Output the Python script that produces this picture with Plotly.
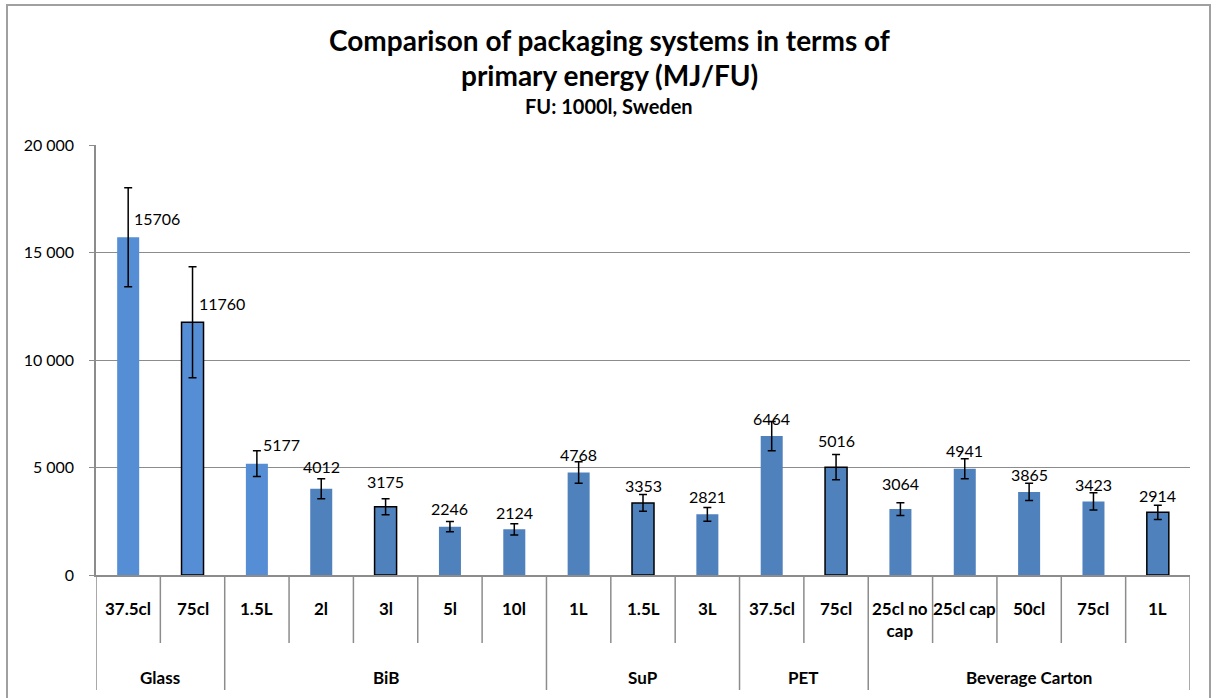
import plotly.graph_objects as go

# ---------------- data ----------------
categories = ["37.5cl", "75cl", "1.5L", "2l", "3l", "5l", "10l", "1L", "1.5L", "3L",
              "37.5cl", "75cl", "25cl no cap", "25cl cap", "50cl", "75cl", "1L"]
groups = ["Glass", "BiB", "SuP", "PET", "Beverage Carton"]
group_sizes = [2, 5, 3, 2, 5]
values = [15706, 11760, 5177, 4012, 3175, 2246, 2124, 4768, 3353, 2821,
          6464, 5016, 3064, 4941, 3865, 3423, 2914]
errors = [2300, 2580, 600, 460, 370, 240, 260, 500, 390, 320,
          680, 590, 300, 470, 400, 400, 330]
y_ticks = [0, 5000, 10000, 15000, 20000]
y_tick_labels = ["0", "5\u2005000", "10\u2005000", "15\u2005000", "20\u2005000"]

# ---------------- style ----------------
W, H = 1216, 698
L, R, T, B = 96, 26, 145, 123
PW, PH = W - L - R, H - T - B
FONT = "Lato"
GRAY = "#8C8C8C"
light = "#558ED5"
dark = "#4F81BD"
fill_colors = [light, light, light] + [dark] * 14
outlined = [False, True, False, False, True, False, False, False, True, False,
            False, True, False, False, False, False, True]
label_dy = [19, 19, 19, 22, 25, 18, 17, 18, 17, 18, 18, 27, 26, 18, 17, 17, 17]
label_right = [True, True, True] + [False] * 14


def py(Y):
    return (T + PH - Y) / PH


def px(X):
    return (X - L) / PW


x = list(range(len(categories)))

fig = go.Figure()
fig.add_trace(go.Bar(
    x=x, y=values,
    marker=dict(color=fill_colors,
                line=dict(color=["#000000" if o else "rgba(0,0,0,0)" for o in outlined],
                          width=[1.5 if o else 0 for o in outlined])),
    error_y=dict(type="data", array=errors, visible=True, color="#000000",
                 thickness=1.5, width=4),
    hoverinfo="skip",
))

annotations = []
# data labels
for i, v in enumerate(values):
    if label_right[i]:
        annotations.append(dict(x=i, y=v, xref="x", yref="y", text=str(v), showarrow=False,
                                xanchor="left", yanchor="middle", xshift=4, yshift=label_dy[i],
                                font=dict(family=FONT, size=16, color="#000000")))
    else:
        annotations.append(dict(x=i, y=v, xref="x", yref="y", text=str(v), showarrow=False,
                                xanchor="center", yanchor="middle", yshift=label_dy[i],
                                font=dict(family=FONT, size=16, color="#000000")))

# category labels
for i, c in enumerate(categories):
    txt = c.replace("25cl no cap", "25cl no<br>cap")
    annotations.append(dict(x=i, y=py(596), xref="x", yref="paper", text="<b>" + txt + "</b>",
                            showarrow=False, xanchor="center", yanchor="top",
                            font=dict(family=FONT, size=17, color="#000000")))

# group labels and table lines
shapes = []
start = 0
bounds = [-0.5]
for g, n in zip(groups, group_sizes):
    center = start + (n - 1) / 2
    annotations.append(dict(x=center, y=py(677), xref="x", yref="paper", text="<b>" + g + "</b>",
                            showarrow=False, xanchor="center", yanchor="middle",
                            font=dict(family=FONT, size=17, color="#000000")))
    start += n
    bounds.append(start - 0.5)

for b in bounds:
    shapes.append(dict(type="line", xref="x", yref="paper", x0=b, x1=b, y0=0, y1=py(690),
                       line=dict(color=GRAY, width=1.5)))
for k in range(len(categories) - 1):
    b = k + 0.5
    if b not in bounds:
        shapes.append(dict(type="line", xref="x", yref="paper", x0=b, x1=b, y0=0, y1=py(643),
                           line=dict(color=GRAY, width=1.5)))

# chart-area border
shapes.append(dict(type="rect", xref="paper", yref="paper", x0=px(7), x1=px(1210),
                   y0=py(720), y1=py(5), line=dict(color="#A0A0A0", width=2)))

# title
annotations.append(dict(x=px(609), y=py(40), xref="paper", yref="paper",
                        text="<b>Comparison of packaging systems in terms of</b>", showarrow=False,
                        xanchor="center", yanchor="middle",
                        font=dict(family=FONT, size=28, color="#000000")))
annotations.append(dict(x=px(609), y=py(75), xref="paper", yref="paper",
                        text="<b>primary energy (MJ/FU)</b>", showarrow=False,
                        xanchor="center", yanchor="middle",
                        font=dict(family=FONT, size=28, color="#000000")))
annotations.append(dict(x=px(609), y=py(106), xref="paper", yref="paper",
                        text="<b>FU: 1000l, Sweden</b>", showarrow=False,
                        xanchor="center", yanchor="middle",
                        font=dict(family=FONT, size=20, color="#000000")))

fig.update_layout(
    width=W, height=H,
    margin=dict(l=L, r=R, t=T, b=B, autoexpand=False),
    paper_bgcolor="white", plot_bgcolor="white",
    showlegend=False,
    bargap=0.658,
    annotations=annotations,
    shapes=shapes,
    xaxis=dict(range=[-0.5, len(categories) - 0.5], showticklabels=False, showgrid=False,
               zeroline=False, showline=True, linecolor=GRAY, linewidth=1.5, ticks=""),
    yaxis=dict(range=[0, 20000], tickvals=y_ticks, ticktext=y_tick_labels,
               showgrid=True, gridcolor=GRAY, gridwidth=1, zeroline=False,
               showline=True, linecolor=GRAY, linewidth=1.5,
               ticks="outside", ticklen=5, tickcolor=GRAY, ticklabelstandoff=12,
               tickfont=dict(family=FONT, size=16, color="#000000")),
)

fig.write_html("out.html", config={"displayModeBar": False},
               post_script="document.body.style.margin='0';document.body.style.overflow='hidden';")
